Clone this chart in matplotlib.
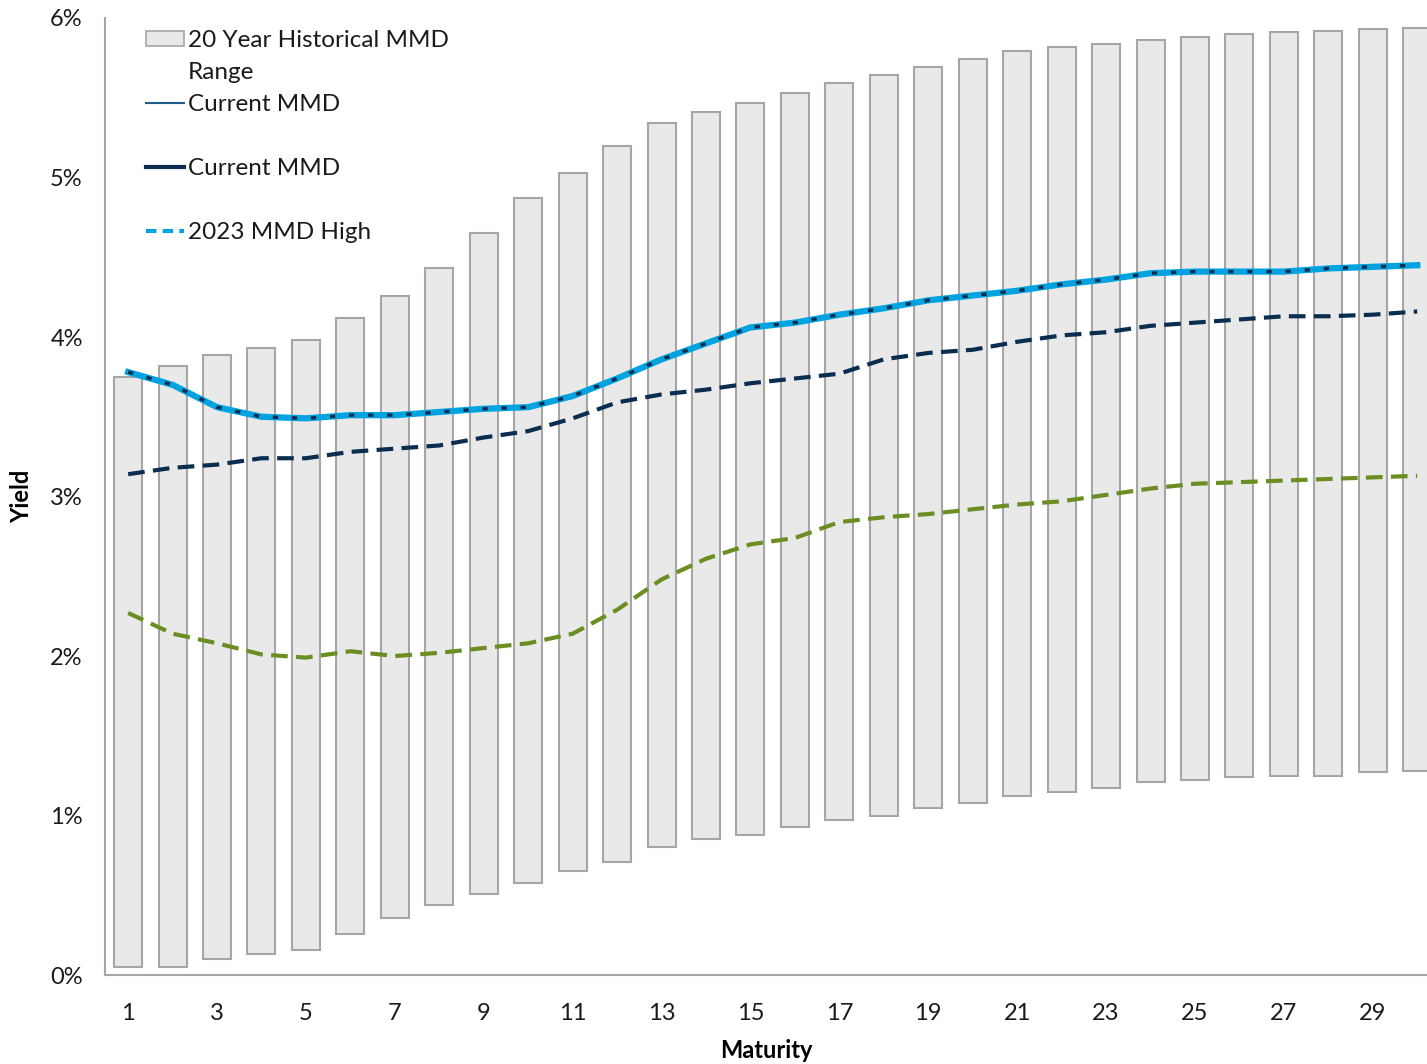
import numpy as np
import matplotlib.pyplot as plt
from matplotlib.patches import Patch
from matplotlib.lines import Line2D

plt.rcParams['font.family'] = ['Lato', 'DejaVu Sans']

maturity = list(range(1, 31))

# 20 year historical range (low / high), in %
range_low = [0.05, 0.05, 0.10, 0.13, 0.16, 0.26, 0.36, 0.44, 0.51, 0.58,
             0.65, 0.71, 0.80, 0.85, 0.88, 0.93, 0.97, 1.00, 1.05, 1.08,
             1.12, 1.15, 1.17, 1.21, 1.22, 1.24, 1.25, 1.25, 1.27, 1.28]
range_high = [3.75, 3.82, 3.89, 3.93, 3.98, 4.12, 4.26, 4.43, 4.65, 4.87,
              5.03, 5.20, 5.34, 5.41, 5.47, 5.53, 5.59, 5.64, 5.69, 5.74,
              5.79, 5.82, 5.84, 5.86, 5.88, 5.90, 5.91, 5.92, 5.93, 5.94]

high_2023 = [3.78, 3.70, 3.56, 3.50, 3.49, 3.51, 3.51, 3.53, 3.55, 3.56,
             3.63, 3.74, 3.86, 3.96, 4.06, 4.09, 4.14, 4.18, 4.23, 4.26,
             4.29, 4.33, 4.36, 4.40, 4.41, 4.41, 4.41, 4.43, 4.44, 4.45]
current_mmd = [3.14, 3.18, 3.20, 3.24, 3.24, 3.28, 3.30, 3.32, 3.37, 3.41,
               3.49, 3.59, 3.64, 3.67, 3.71, 3.74, 3.77, 3.86, 3.90, 3.92,
               3.97, 4.01, 4.03, 4.07, 4.09, 4.11, 4.13, 4.13, 4.14, 4.16]
low_2023 = [2.27, 2.14, 2.08, 2.01, 1.99, 2.03, 2.00, 2.02, 2.05, 2.08,
            2.14, 2.29, 2.48, 2.61, 2.70, 2.74, 2.84, 2.87, 2.89, 2.92,
            2.95, 2.97, 3.01, 3.05, 3.08, 3.09, 3.10, 3.11, 3.12, 3.13]

x_ticks = list(range(1, 30, 2))
y_ticks = [0, 1, 2, 3, 4, 5, 6]

navy = '#0b2d4f'
light_blue = '#00a3e0'
green = '#6b8e23'

fig = plt.figure(figsize=(14.27, 10.64), dpi=100)
ax = fig.add_axes([0.0736, 0.0836, 0.9264, 0.8995])

heights = np.array(range_high) - np.array(range_low)
ax.bar(maturity, heights, bottom=range_low, width=0.63,
       color='#e8e9e8', edgecolor='#a6a6a6', linewidth=1.5, zorder=1)

ax.plot(maturity, high_2023, color=light_blue, linewidth=4.5, zorder=3)
ax.plot(maturity, high_2023, color=navy, linewidth=2.5, linestyle=(0, (1.5, 4)), zorder=4)
ax.plot(maturity, current_mmd, color=navy, linewidth=3, linestyle=(0, (4, 2)), zorder=3)
ax.plot(maturity, low_2023, color=green, linewidth=3, linestyle=(0, (4, 2)), zorder=3)

ax.set_xlim(0.48, 30.22)
ax.set_ylim(0, 6)
ax.set_xticks(x_ticks)
ax.set_yticks(y_ticks)
ax.set_yticklabels([f'{v}%' for v in y_ticks])
ax.tick_params(length=0, labelsize=17, colors='#1a1a1a')
ax.tick_params(axis='x', pad=20)
ax.tick_params(axis='y', pad=16)

for side in ['top', 'right']:
    ax.spines[side].set_visible(False)
for side in ['left', 'bottom']:
    ax.spines[side].set_color('#a6a6a6')
    ax.spines[side].set_linewidth(1.5)

ax.set_xlabel('Maturity', fontsize=17, fontweight='bold', labelpad=11)
ax.set_ylabel('Yield', fontsize=17, fontweight='bold', labelpad=12)

# legend built row by row so wrapped / spaced rows keep their handles aligned
blank = Line2D([], [], color='none')
handles = [
    Patch(facecolor='#e8e9e8', edgecolor='#a6a6a6', linewidth=1.2),
    blank,
    Line2D([], [], color='#1f5a8c', linewidth=1.5),
    blank,
    Line2D([], [], color=navy, linewidth=3),
    blank,
    Line2D([], [], color=light_blue, linewidth=3, linestyle=(0, (2.5, 1.5))),
]
labels = ['20 Year Historical MMD', 'Range', 'Current MMD', ' ',
          'Current MMD', ' ', '2023 MMD High']
leg = ax.legend(handles, labels, loc='upper left', bbox_to_anchor=(0.022, 1.0),
                frameon=False, fontsize=17.5, handlelength=1.55, handletextpad=0.15,
                labelspacing=0.45, borderaxespad=0.1, handleheight=0.6)
for t in leg.get_texts():
    t.set_color('#1a1a1a')

fig.savefig('out.png', dpi=100)
